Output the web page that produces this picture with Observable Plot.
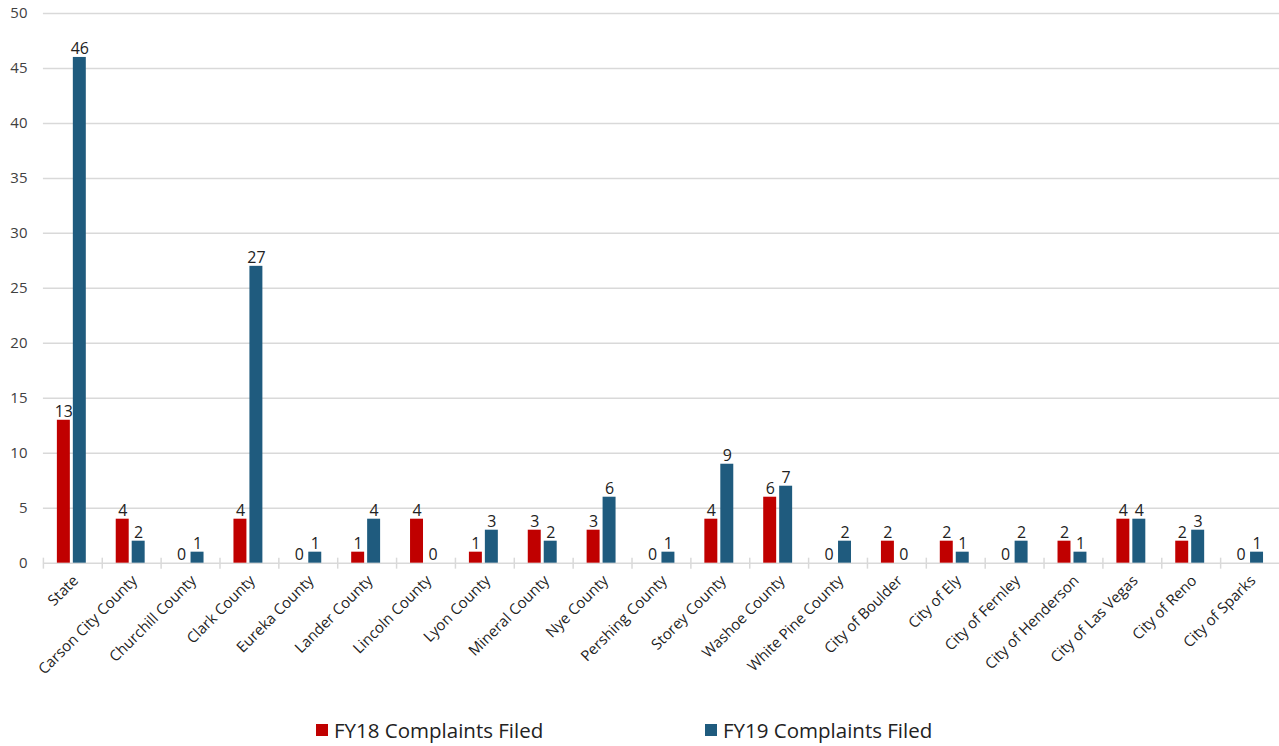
<!DOCTYPE html>
<html>
<head>
<meta charset="utf-8">
<script src="https://cdn.jsdelivr.net/npm/d3@7"></script>
<script src="https://cdn.jsdelivr.net/npm/@observablehq/plot@0.6"></script>
<style>
  html, body { margin: 0; padding: 0; background: #fff; overflow: hidden; }
  body { width: 1279px; height: 746px; font-family: "Open Sans", sans-serif; }
  #chart svg { display: block; }
  #legend { position: relative; width: 1279px; height: 34px; font-size: 20.5px; color: #222; }
  .item { position: absolute; top: 3px; height: 34px; display: flex; align-items: center; }
  .sw { width: 12px; height: 12px; margin-right: 6px; }
</style>
</head>
<body>
<div id="chart"></div>
<div id="legend"></div>
<script>
const categories = ["State","Carson City County","Churchill County","Clark County","Eureka County","Lander County","Lincoln County","Lyon County","Mineral County","Nye County","Pershing County","Storey County","Washoe County","White Pine County","City of Boulder","City of Ely","City of Fernley","City of Henderson","City of Las Vegas","City of Reno","City of Sparks"];
const fy18 = [13,4,0,4,0,1,4,1,3,3,0,4,6,0,2,2,0,2,4,2,0];
const fy19 = [46,2,1,27,1,4,0,3,2,6,1,9,7,2,0,1,2,1,4,3,1];
const seriesNames = ["FY18 Complaints Filed","FY19 Complaints Filed"];
const colors = ["#C00000","#1F5B7E"];
const yTicks = [0,5,10,15,20,25,30,35,40,45,50];

const data = categories.map((c,i) => ({cat: c, fy18: fy18[i], fy19: fy19[i]}));

const textColor = "#404040";
const gridColor = "#d9d9d9";
const font = "'Open Sans', sans-serif";

const chart = Plot.plot({
  width: 1282,
  height: 712,
  marginLeft: 43,
  marginRight: 0,
  marginTop: 13,
  marginBottom: 148,
  style: {fontFamily: font, fontSize: "15px", color: textColor, background: "#fff"},
  x: {domain: categories, padding: 0, label: null},
  y: {domain: [0, 50], label: null},
  marks: [
    Plot.ruleY(yTicks, {stroke: gridColor, strokeWidth: 1.5}),
    Plot.ruleX(categories, {x: d => d, y1: 0, y2: 0, dx: -29.5, insetTop: -5, insetBottom: -6, stroke: gridColor, strokeWidth: 1.5}),
    Plot.barY(data, {x: "cat", y: "fy18", fill: colors[0], insetLeft: 14, insetRight: 32}),
    Plot.barY(data, {x: "cat", y: "fy19", fill: colors[1], insetLeft: 30, insetRight: 16}),
    Plot.text(data, {x: "cat", y: "fy18", text: d => String(d.fy18), dx: -9, dy: -3, lineAnchor: "bottom", fill: "#222", fontSize: 16}),
    Plot.text(data, {x: "cat", y: "fy19", text: d => String(d.fy19), dx: 7, dy: -3, lineAnchor: "bottom", fill: "#222", fontSize: 16}),
    Plot.axisY({ticks: yTicks, tickSize: 0, tickPadding: 16, fontSize: 15, fill: textColor}),
    Plot.axisX({tickSize: 0, tickPadding: 15, tickRotate: -45, fontSize: 15, fill: "#222", dx: 3})
  ]
});
document.getElementById("chart").appendChild(chart);

const legend = document.getElementById("legend");
const lefts = [316, 705];
seriesNames.forEach((name, i) => {
  const item = document.createElement("div");
  item.className = "item";
  item.style.left = lefts[i] + "px";
  const sw = document.createElement("span");
  sw.className = "sw";
  sw.style.background = colors[i];
  const t = document.createElement("span");
  t.textContent = name;
  item.appendChild(sw);
  item.appendChild(t);
  legend.appendChild(item);
});
</script>
</body>
</html>
